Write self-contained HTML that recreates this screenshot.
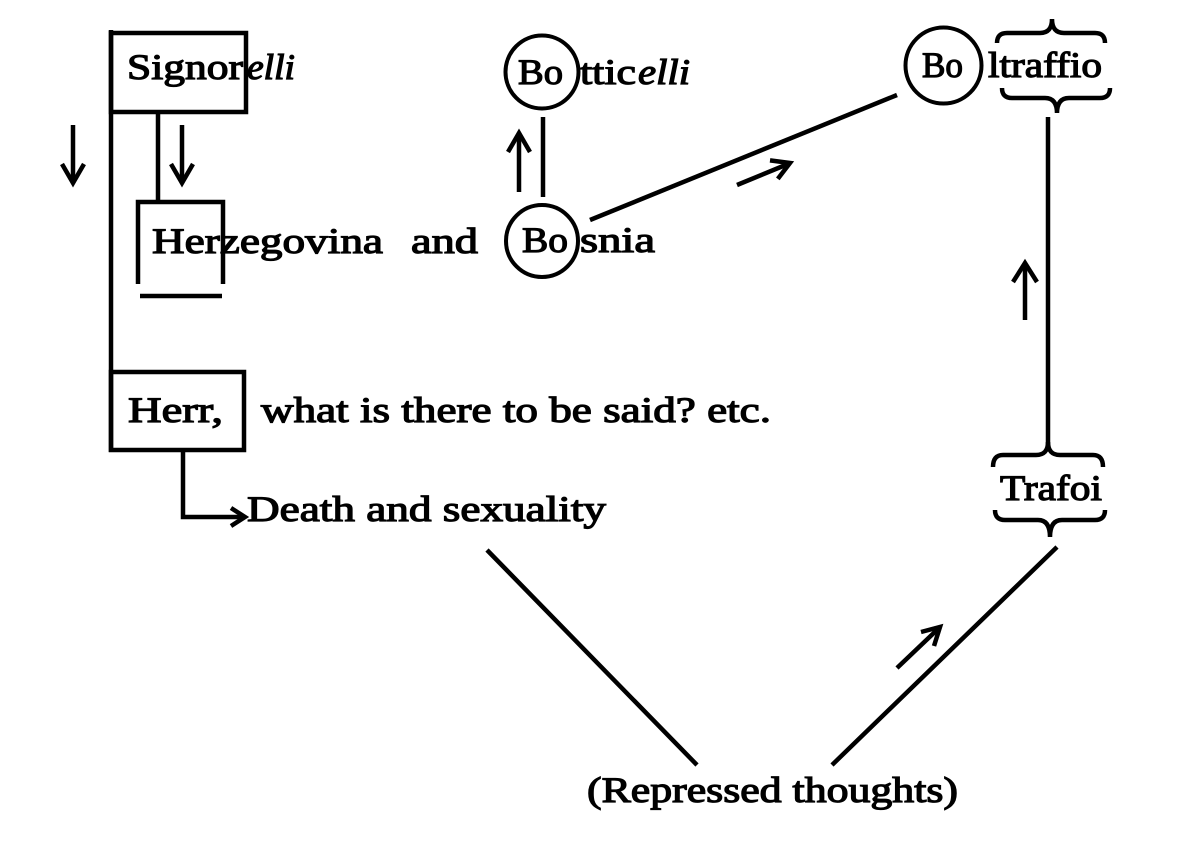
<!DOCTYPE html>
<html>
<head>
<meta charset="utf-8">
<style>
html,body{margin:0;padding:0;background:#fff;}
svg{display:block;}
text{font-family:"Liberation Serif",serif;font-size:36px;fill:#000;stroke:#000;stroke-width:1.2px;}
.it{font-style:italic;}
</style>
</head>
<body>
<svg width="1200" height="848" viewBox="0 0 1200 848" xmlns="http://www.w3.org/2000/svg">
<rect width="1200" height="848" fill="#fff"/>
<g fill="none" stroke="#000" stroke-width="4.5" stroke-linecap="butt" stroke-linejoin="miter">
  <line x1="111" y1="30" x2="111" y2="452"/>
  <rect x="111" y="33" width="135" height="79"/>
  <rect x="111" y="372" width="133" height="78"/>
  <line x1="158" y1="112" x2="158" y2="202"/>
  <path d="M138,284 V202 H223 V284"/>
  <line x1="140" y1="296" x2="222" y2="296"/>
  <path d="M183,450 V517 H242"/>
  <polyline points="231,508 245,517 231,526"/>
  <line x1="73" y1="125" x2="73" y2="181"/>
  <polyline points="62,164 73,183 84,164"/>
  <line x1="182" y1="125" x2="182" y2="181"/>
  <polyline points="171,164 182,183 193,164"/>
  <circle cx="542" cy="72" r="36.5" stroke-width="4"/>
  <circle cx="542" cy="241" r="36" stroke-width="4"/>
  <circle cx="943.5" cy="65.5" r="38" stroke-width="4"/>
  <line x1="543" y1="117" x2="543" y2="197"/>
  <line x1="519" y1="134" x2="519" y2="192"/>
  <polyline points="508,152 519,133 530,152"/>
  <line x1="590" y1="220" x2="897" y2="95"/>
  <line x1="737" y1="185" x2="788" y2="164"/>
  <polyline points="770,160.4 790,163 777.8,178.9"/>
  <line x1="1048" y1="117" x2="1048" y2="446"/>
  <line x1="1025" y1="264" x2="1025" y2="320"/>
  <polyline points="1013,282 1025,263 1037,282"/>
  <path d="M997,43 Q997,33 1007,33 H1040 Q1052,33 1052,19 Q1052,33 1064,33 H1095 Q1105,33 1105,43"/>
  <path d="M1002,88 Q1002,98 1012,98 H1045 Q1057,98 1057,113 Q1057,98 1069,98 H1100 Q1110,98 1110,88"/>
  <path d="M993,467 Q993,455 1003,455 H1036 Q1048,455 1048,442 Q1048,455 1060,455 H1093 Q1103,455 1103,467"/>
  <path d="M995,510 Q995,520 1005,520 H1038 Q1050,520 1050,537 Q1050,520 1062,520 H1095 Q1105,520 1105,510"/>
  <line x1="1057" y1="547" x2="832" y2="765"/>
  <line x1="897" y1="668" x2="938" y2="629"/>
  <polyline points="921,632 940,627 934,646"/>
  <line x1="487" y1="550" x2="697" y2="765"/>
</g>
<g font-family="Liberation Serif, serif">
  <text x="127" y="79" textLength="116" lengthAdjust="spacingAndGlyphs">Signor</text>
  <text class="it" x="247" y="79" textLength="48" lengthAdjust="spacingAndGlyphs">elli</text>

  <text x="518" y="84" textLength="45" lengthAdjust="spacingAndGlyphs">Bo</text>
  <text x="580" y="84" textLength="56" lengthAdjust="spacingAndGlyphs">ttic</text>
  <text class="it" x="638" y="84" textLength="52" lengthAdjust="spacingAndGlyphs">elli</text>

  <text x="922" y="77" textLength="41" lengthAdjust="spacingAndGlyphs">Bo</text>
  <text x="988" y="77" textLength="114" lengthAdjust="spacingAndGlyphs">ltraffio</text>

  <text x="152" y="253" textLength="231" lengthAdjust="spacingAndGlyphs">Herzegovina</text>
  <text x="411" y="253" textLength="67" lengthAdjust="spacingAndGlyphs">and</text>
  <text x="522" y="252" textLength="46" lengthAdjust="spacingAndGlyphs">Bo</text>
  <text x="580" y="252" textLength="75" lengthAdjust="spacingAndGlyphs">snia</text>

  <text x="128" y="422" textLength="95" lengthAdjust="spacingAndGlyphs">Herr,</text>
  <text x="261" y="422" textLength="510" lengthAdjust="spacingAndGlyphs">what is there to be said? etc.</text>

  <text x="247" y="521" textLength="359" lengthAdjust="spacingAndGlyphs">Death and sexuality</text>

  <text x="1000" y="500" textLength="102" lengthAdjust="spacingAndGlyphs">Trafoi</text>

  <text x="587" y="802" textLength="371" lengthAdjust="spacingAndGlyphs">(Repressed thoughts)</text>
</g>
</svg>
</body>
</html>
